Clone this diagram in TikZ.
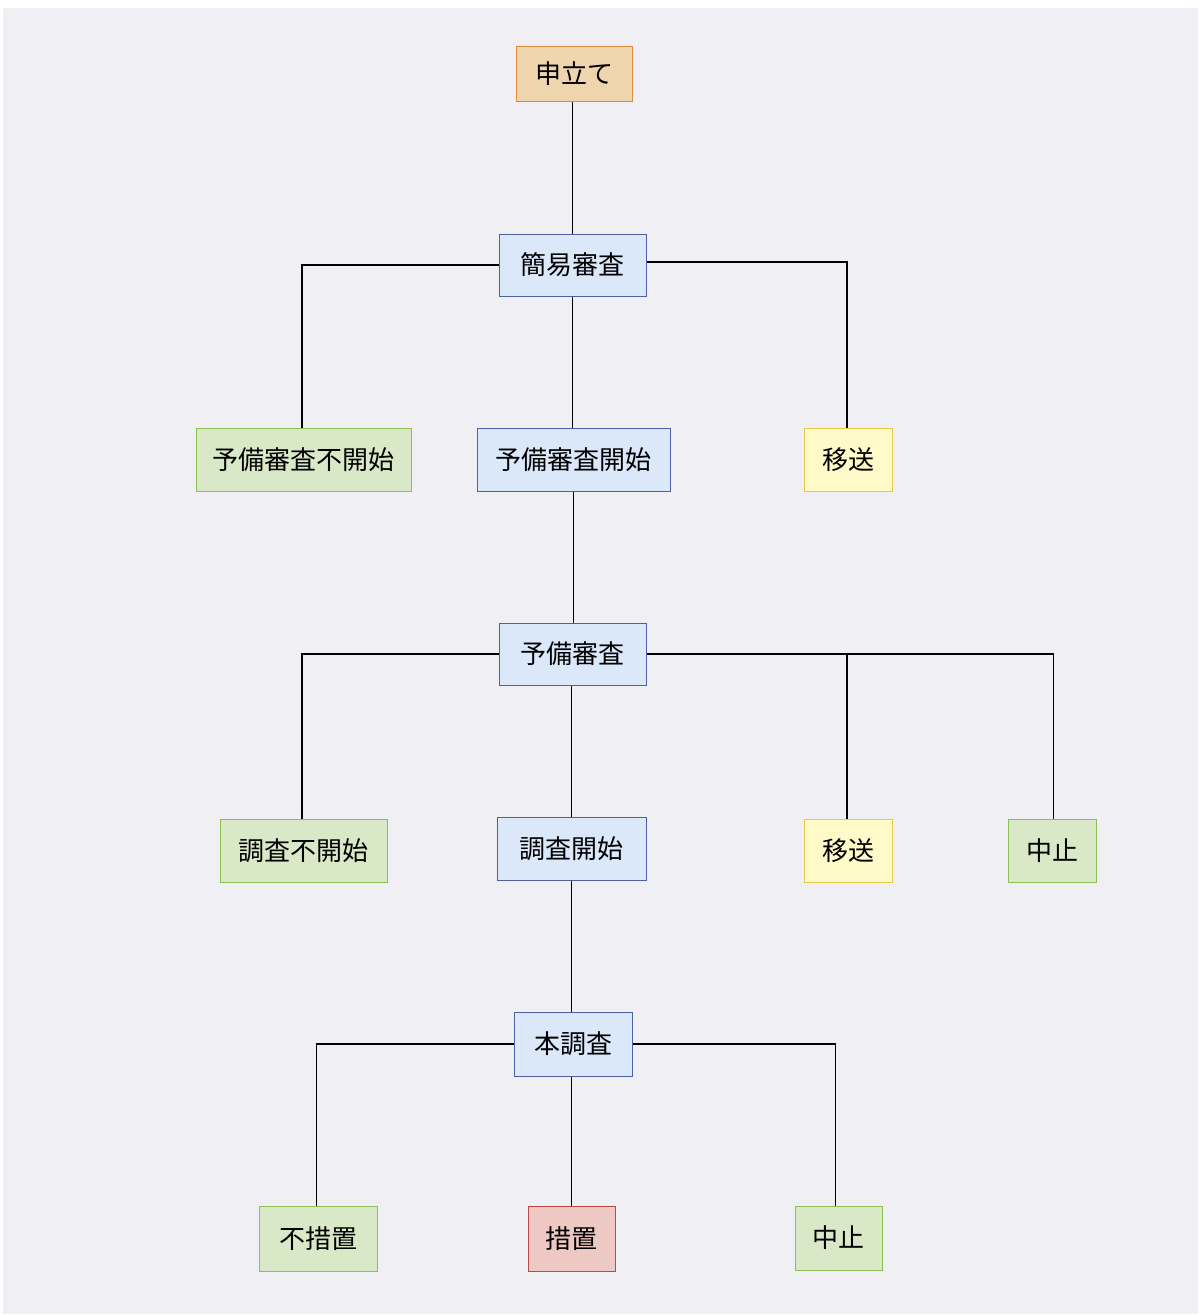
\documentclass[tikz,border=0pt]{standalone}
\usepackage{fontspec}
\newfontfamily\jp{Noto Sans CJK JP}
\definecolor{bgc}{HTML}{F0EFF4}
\definecolor{blueF}{HTML}{DAE8FA}
\definecolor{blueD}{HTML}{4F5FA3}
\definecolor{greenF}{HTML}{D9E8C6}
\definecolor{greenD}{HTML}{8CC152}
\definecolor{yelF}{HTML}{FFFAC8}
\definecolor{yelD}{HTML}{E8C84A}
\definecolor{orF}{HTML}{EFD5AE}
\definecolor{orD}{HTML}{DC8B3C}
\definecolor{redF}{HTML}{EEC9C4}
\definecolor{redD}{HTML}{BA4A45}
\tikzset{
  box/.style={draw, line width=1pt, inner sep=0pt, font=\jp\fontsize{26}{30}\selectfont, text=black},
  bluebox/.style={box, fill=blueF, draw=blueD},
  greenbox/.style={box, fill=greenF, draw=greenD},
  yelbox/.style={box, fill=yelF, draw=yelD},
  orbox/.style={box, fill=orF, draw=orD},
  redbox/.style={box, fill=redF, draw=redD},
  conn/.style={draw=black, line width=1.8pt},
}
\begin{document}
\begin{tikzpicture}[x=1pt,y=-1pt]
\useasboundingbox (0,0) rectangle (1200,1315);
\fill[bgc] (3,8) rectangle (1198,1314);
% row 0
\node[orbox, minimum width=116, minimum height=55] (st) at (574,73.5) {申立て};
% row 1
\node[bluebox, minimum width=147, minimum height=62] (kan) at (572.5,265) {簡易審査};
% row 2
\node[greenbox, minimum width=215, minimum height=63] (yfk) at (303.5,459.5) {予備審査不開始};
\node[bluebox, minimum width=193, minimum height=63] (yk) at (573.5,459.5) {予備審査開始};
\node[yelbox, minimum width=88, minimum height=63] (is1) at (848,459.5) {移送};
% row 3
\node[bluebox, minimum width=147, minimum height=62] (ys) at (572.5,654) {予備審査};
% row 4
\node[greenbox, minimum width=167, minimum height=63] (cfk) at (303.5,850.5) {調査不開始};
\node[bluebox, minimum width=149, minimum height=63] (ck) at (571.5,848.5) {調査開始};
\node[yelbox, minimum width=88, minimum height=63] (is2) at (848,850.5) {移送};
\node[greenbox, minimum width=88, minimum height=63] (cs1) at (1052,850.5) {中止};
% row 5
\node[bluebox, minimum width=118, minimum height=64] (hc) at (573,1044) {本調査};
% row 6
\node[greenbox, minimum width=118, minimum height=65] (fs) at (318,1238.5) {不措置};
\node[redbox, minimum width=87, minimum height=65] (sc) at (571.5,1238.5) {措置};
\node[greenbox, minimum width=87, minimum height=64] (cs2) at (838.5,1238) {中止};
% connectors
\draw[conn] (kan.north |- st.south) -- (kan.north);
\draw[conn] (kan.west) -| ([xshift=-1.5pt]yfk.north);
\draw[conn] ([yshift=3pt]kan.east) -| ([xshift=-1pt]is1.north);
\draw[conn] (kan.south) -- (kan.south |- yk.north);
\draw[conn] (yk.south) -- (yk.south |- ys.north);
\draw[conn] (ys.west) -| ([xshift=-1.5pt]cfk.north);
\draw[conn] (ys.east) -| ([xshift=-1pt]is2.north);
\draw[conn] (ys.east) -| ([xshift=1.5pt]cs1.north);
\draw[conn] (ck.north |- ys.south) -- (ck.north);
\draw[conn] (ck.south) -- (ck.south |- hc.north);
\draw[conn] (hc.west) -| ([xshift=-1.5pt]fs.north);
\draw[conn] (hc.east) -| ([xshift=-3pt]cs2.north);
\draw[conn] (sc.north |- hc.south) -- (sc.north);
\end{tikzpicture}
\end{document}
